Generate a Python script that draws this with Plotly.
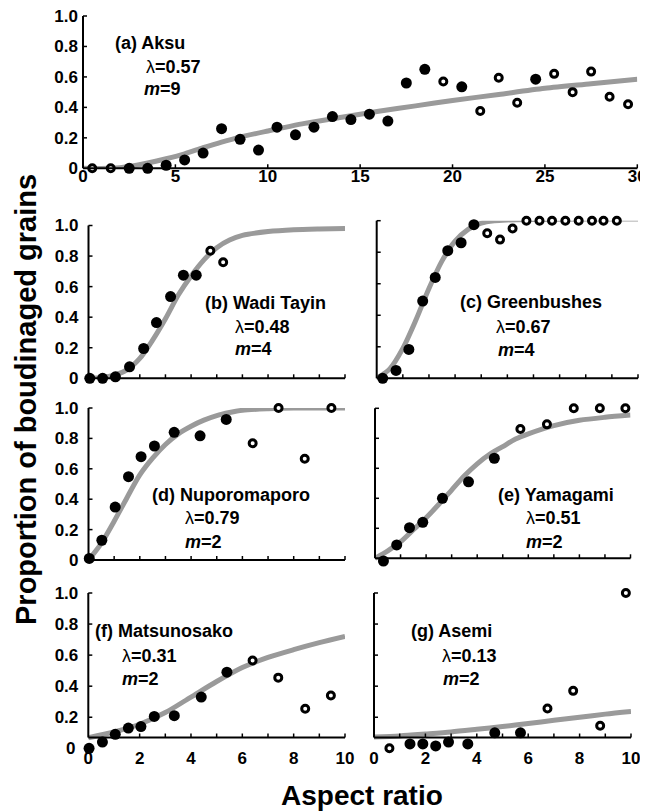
import plotly.graph_objects as go

# The page body has an 8 px margin, so the figure is 8 px smaller on each axis
# and every reference-pixel position is shifted by OFF.
OFF = 8
W, H = 648 - OFF, 812 - OFF
FONT = "Liberation Sans, Arial, Helvetica, sans-serif"
GRAY = "#9a9a9a"

# ---------------- data ----------------
# (a) Aksu
a_fx = [2.5, 3.5, 4.5, 5.5, 6.5, 7.5, 8.5, 9.5, 10.5, 11.5, 12.5, 13.5, 14.5, 15.5, 16.5, 17.5, 18.5, 20.5, 24.5]
a_fy = [0, 0, 0.02, 0.055, 0.10, 0.26, 0.19, 0.12, 0.27, 0.22, 0.27, 0.34, 0.32, 0.355, 0.31, 0.56, 0.65, 0.535, 0.585]
a_ox = [0.5, 1.5, 19.5, 21.5, 22.5, 23.5, 25.5, 26.5, 27.5, 28.5, 29.5]
a_oy = [0, 0, 0.57, 0.376, 0.595, 0.43, 0.62, 0.50, 0.635, 0.47, 0.42]
a_cx = [0, 1.5, 2.5, 3.5, 4.5, 5.5, 6.5, 7.5, 8.5, 10, 12, 14, 16, 18, 20, 22.5, 25, 27.5, 30]
a_cy = [0, 0, 0.012, 0.035, 0.063, 0.095, 0.135, 0.172, 0.205, 0.245, 0.295, 0.335, 0.375, 0.41, 0.445, 0.485, 0.525, 0.555, 0.585]

# (b) Wadi Tayin
b_fx = [0.05, 0.55, 1.05, 1.6, 2.15, 2.65, 3.2, 3.7, 4.2]
b_fy = [0, 0, 0.01, 0.075, 0.195, 0.365, 0.535, 0.675, 0.675]
b_ox = [4.75, 5.25, 5.8]
b_oy = [0.835, 0.76, 1.015]
b_cx = [0, 0.5, 1, 1.5, 2, 2.5, 3, 3.5, 4, 4.5, 5, 5.5, 6, 7, 8, 9, 10]
b_cy = [0, 0.005, 0.02, 0.055, 0.13, 0.25, 0.39, 0.545, 0.67, 0.775, 0.855, 0.905, 0.935, 0.96, 0.972, 0.977, 0.98]

# (c) Greenbushes
c_fx = [0.23, 0.74, 1.23, 1.76, 2.24, 2.72, 3.23, 3.72]
c_fy = [0, 0.05, 0.183, 0.49, 0.64, 0.81, 0.86, 0.975]
c_ox = [4.23, 4.72, 5.2, 5.73, 6.23, 6.71, 7.22, 7.73, 8.24, 8.68, 9.19]
c_oy = [0.92, 0.88, 0.95, 1.0, 1.0, 1.0, 1.0, 1.0, 1.0, 1.0, 1.0]
c_cx = [0, 0.5, 1, 1.5, 2, 2.5, 3, 3.5, 4, 4.5, 5, 6, 8, 10]
c_cy = [0, 0.06, 0.19, 0.37, 0.57, 0.745, 0.87, 0.945, 0.985, 1.0, 1.005, 1.008, 1.01, 1.01]

# (d) Nuporomaporo
d_fx = [0.03, 0.52, 1.04, 1.56, 2.05, 2.57, 3.34, 4.35, 5.37]
d_fy = [0.01, 0.13, 0.348, 0.548, 0.68, 0.75, 0.84, 0.817, 0.925]
d_ox = [6.4, 7.41, 8.43, 9.47]
d_oy = [0.768, 1.0, 0.666, 1.0]
d_cx = [0, 0.5, 1, 1.5, 2, 2.5, 3, 3.5, 4, 4.5, 5, 5.5, 6, 7, 8, 10]
d_cy = [0, 0.11, 0.255, 0.41, 0.56, 0.67, 0.76, 0.83, 0.88, 0.92, 0.95, 0.97, 0.985, 0.995, 1.0, 1.0]

# (e) Yamagami
e_fx = [0.33, 0.85, 1.35, 1.87, 2.64, 3.66, 4.67]
e_fy = [-0.018, 0.089, 0.204, 0.24, 0.40, 0.51, 0.667]
e_ox = [5.69, 6.73, 7.78, 8.8, 9.8]
e_oy = [0.862, 0.893, 1.0, 1.0, 1.0]
e_cx = [0, 0.5, 1, 1.5, 2, 2.5, 3, 3.5, 4, 4.5, 5, 5.5, 6, 7, 8, 9, 10]
e_cy = [0, 0.05, 0.11, 0.19, 0.27, 0.36, 0.455, 0.55, 0.63, 0.695, 0.745, 0.795, 0.83, 0.885, 0.92, 0.94, 0.955]

# (f) Matsunosako
f_fx = [0.03, 0.55, 1.05, 1.56, 2.05, 2.57, 3.35, 4.4, 5.4]
f_fy = [0, 0.04, 0.09, 0.13, 0.14, 0.205, 0.21, 0.33, 0.49]
f_ox = [6.4, 7.4, 8.45, 9.45]
f_oy = [0.565, 0.455, 0.255, 0.34]
f_cx = [0, 1, 2, 3, 4, 5, 6, 7, 8, 9, 10]
f_cy = [0.068, 0.105, 0.155, 0.23, 0.33, 0.43, 0.52, 0.585, 0.635, 0.68, 0.72]

# (g) Asemi
g_fx = [1.4, 1.9, 2.4, 2.9, 3.65, 4.7, 5.7]
g_fy = [0.028, 0.028, 0.015, 0.04, 0.028, 0.10, 0.10]
g_ox = [0.6, 6.75, 7.75, 8.8, 9.8]
g_oy = [0.0, 0.256, 0.37, 0.145, 1.0]
g_cx = [0, 1, 2, 3, 4, 5, 6, 7, 8, 9, 10]
g_cy = [0.072, 0.08, 0.092, 0.105, 0.122, 0.14, 0.16, 0.18, 0.2, 0.22, 0.237]

y_ticks = [0, 0.2, 0.4, 0.6, 0.8, 1.0]
y_ticktext = ["0", "0.2", "0.4", "0.6", "0.8", "1.0"]
a_xticks = [0, 5, 10, 15, 20, 25, 30]
small_xticks = list(range(0, 11))
small_xticktext = ["0", "", "2", "", "4", "", "6", "", "8", "", "10"]

labels = [
    ("(a) Aksu", "0.57", "9"),
    ("(b) Wadi Tayin", "0.48", "4"),
    ("(c) Greenbushes", "0.67", "4"),
    ("(d) Nuporomaporo", "0.79", "2"),
    ("(e) Yamagami", "0.51", "2"),
    ("(f) Matsunosako", "0.31", "2"),
    ("(g) Asemi", "0.13", "2"),
]

# ---------------- layout geometry (reference pixels) ----------------
# xd: x-axis pixel extent; p0: pixel row of y = 0; s: pixels per unit of y;
# lo: lowest y shown; line: y value where the drawn x-axis line sits
geom = [
    dict(xd=(83, 637.3), xr=[0, 30], p0=168.3, s=152.3, lo=0.0, line=0.0),
    dict(xd=(88.5, 345), xr=[0, 10], p0=378.3, s=152.8, lo=0.0, line=0.0),
    dict(xd=(376.7, 638), xr=[0, 10], p0=378.3, s=157.6, lo=0.0, line=0.0),
    dict(xd=(88.5, 345), xr=[0, 10], p0=560.0, s=152.0, lo=0.0, line=0.0),
    dict(xd=(375, 630.5), xr=[0, 10], p0=558.3, s=150.0, lo=-0.03, line=0.0),
    dict(xd=(88.3, 345), xr=[0, 10], p0=748.3, s=155.3, lo=-0.01, line=0.0695),
    dict(xd=(374, 631), xr=[0, 10], p0=748.3, s=155.3, lo=-0.01, line=0.0695),
]

data = [
    (a_cx, a_cy, a_fx, a_fy, a_ox, a_oy),
    (b_cx, b_cy, b_fx, b_fy, b_ox, b_oy),
    (c_cx, c_cy, c_fx, c_fy, c_ox, c_oy),
    (d_cx, d_cy, d_fx, d_fy, d_ox, d_oy),
    (e_cx, e_cy, e_fx, e_fy, e_ox, e_oy),
    (f_cx, f_cy, f_fx, f_fy, f_ox, f_oy),
    (g_cx, g_cy, g_fx, g_fy, g_ox, g_oy),
]

label_pos = [
    [(112.7, 43.3), (144, 66.7), (141.7, 89.3)],
    [(203.3, 303.3), (233.3, 326.7), (233.3, 349.3)],
    [(458.3, 301.7), (494.3, 326.7), (495.7, 350)],
    [(150, 495), (182.7, 518.3), (182.7, 541.7)],
    [(495.7, 495), (524.3, 518.3), (524.3, 541.7)],
    [(93.3, 630.7), (120, 655.7), (120, 679.3)],
    [(409, 630.7), (440, 655.7), (441, 679.3)],
]


def fx_(px):
    return (px - OFF) / W


def fy_(py):
    return 1 - (py - OFF) / H


fig = go.Figure()
tickfont = dict(family=FONT, size=17, color="black", weight="bold")
axline = dict(color="black", width=2)
tickline = dict(color="black", width=1.5)
TL = 4  # tick length, px

for i, (cx, cy, fx, fy, ox, oy) in enumerate(data):
    sx = "" if i == 0 else str(i + 1)
    xa, ya = "x" + sx, "y" + sx
    g = geom[i]
    p0, s, lo, ln = g["p0"], g["s"], g["lo"], g["line"]
    x0p, x1p = g["xd"]
    xr0, xr1 = g["xr"]
    bot_px = p0 - lo * s
    top_px = p0 - 1.0 * s
    line_px = p0 - ln * s
    special = (lo != 0.0) or (ln != 0.0)

    fig.add_trace(go.Scatter(x=cx, y=cy, mode="lines", xaxis=xa, yaxis=ya,
                             line=dict(color=GRAY, width=5, shape="spline", smoothing=0.8),
                             cliponaxis=False, hoverinfo="skip"))
    fig.add_trace(go.Scatter(x=fx, y=fy, mode="markers", xaxis=xa, yaxis=ya,
                             marker=dict(color="black", size=11, line=dict(width=0)),
                             cliponaxis=False))
    fig.add_trace(go.Scatter(x=ox, y=oy, mode="markers", xaxis=xa, yaxis=ya,
                             marker=dict(color="white", size=7, line=dict(color="black", width=3)),
                             cliponaxis=False))

    left_col = i in (0, 1, 3, 5)
    if i == 0:
        xt, xtt, xshow, xstand = a_xticks, [str(v) for v in a_xticks], True, -4
    elif i in (5, 6):
        xt, xtt, xshow, xstand = small_xticks, small_xticktext, True, 8
    else:
        xt, xtt, xshow, xstand = small_xticks, small_xticktext, False, 0
    xaxis = dict(
        domain=[fx_(x0p), fx_(x1p)], range=g["xr"],
        showline=False, ticks="",
        tickmode="array", tickvals=xt, ticktext=xtt, showticklabels=xshow,
        ticklabelstandoff=xstand, ticklabeloverflow="allow", tickfont=tickfont,
        showgrid=False, zeroline=False, fixedrange=True)
    if special:
        xaxis.update(anchor="free", position=fy_(line_px))
    else:
        xaxis.update(anchor=ya)
    fig.layout["xaxis" + sx] = xaxis

    yt = y_ticks if ln == 0.0 else y_ticks[1:]
    ytt = y_ticktext if ln == 0.0 else y_ticktext[1:]
    fig.layout["yaxis" + sx] = dict(
        domain=[fy_(bot_px), fy_(top_px)], range=[lo, 1.0], anchor=xa,
        showline=False, ticks="",
        tickmode="array", tickvals=yt, ticktext=ytt,
        showticklabels=left_col, ticklabelstandoff=(4 if i == 0 else 9),
        ticklabeloverflow="allow", tickfont=tickfont, showgrid=False,
        zeroline=False, fixedrange=True)

    # axis lines and inward tick marks, placed from the same axis scales
    fig.add_shape(type="line", xref="paper", yref="paper",
                  x0=fx_(x0p), x1=fx_(x1p), y0=fy_(line_px), y1=fy_(line_px),
                  line=axline, layer="above")
    fig.add_shape(type="line", xref="paper", yref="paper",
                  x0=fx_(x0p), x1=fx_(x0p), y0=fy_(line_px), y1=fy_(top_px),
                  line=axline, layer="above")
    for v in xt[1:]:
        tx = x0p + (v - xr0) / (xr1 - xr0) * (x1p - x0p)
        fig.add_shape(type="line", xref="paper", yref="paper",
                      x0=fx_(tx), x1=fx_(tx), y0=fy_(line_px), y1=fy_(line_px - TL),
                      line=tickline, layer="above")
    for v in yt:
        if v <= ln:
            continue
        ty = p0 - v * s
        fig.add_shape(type="line", xref="paper", yref="paper",
                      x0=fx_(x0p), x1=fx_(x0p + TL), y0=fy_(ty), y1=fy_(ty),
                      line=tickline, layer="above")

    name, lam, m = labels[i]
    (n_x, n_y), (l_x, l_y), (m_x, m_y) = label_pos[i]
    for txt, px, py in [("<b>" + name + "</b>", n_x, n_y),
                        ("λ<b>=" + lam + "</b>", l_x, l_y),
                        ("<b><i>m</i>=" + m + "</b>", m_x, m_y)]:
        fig.add_annotation(text=txt, x=fx_(px), y=fy_(py), xref="paper", yref="paper",
                           xanchor="left", yanchor="middle", showarrow=False,
                           font=dict(family=FONT, size=18, color="black"))

# the "0" tick label of panel (f), whose x-axis line sits above y = 0
fig.add_annotation(text="<b>0</b>", x=0, y=0, xref="x6 domain", yref="y6",
                   xanchor="right", yanchor="middle", xshift=-11, showarrow=False,
                   font=dict(family=FONT, size=17, color="black"))

# axis titles
fig.add_annotation(text="<b>Proportion of boudinaged grains</b>", x=fx_(26), y=fy_(400),
                   xref="paper", yref="paper", textangle=-90, showarrow=False,
                   xanchor="center", yanchor="middle",
                   font=dict(family=FONT, size=29, color="black"))
fig.add_annotation(text="<b>Aspect ratio</b>", x=fx_(362), y=fy_(795),
                   xref="paper", yref="paper", showarrow=False,
                   xanchor="center", yanchor="middle",
                   font=dict(family=FONT, size=28, color="black"))

fig.update_layout(width=W, height=H, margin=dict(l=0, r=0, t=0, b=0, autoexpand=False),
                  paper_bgcolor="white", plot_bgcolor="white", showlegend=False,
                  font=dict(family=FONT, color="black"))

fig.write_html("out.html", config={"displayModeBar": False})
